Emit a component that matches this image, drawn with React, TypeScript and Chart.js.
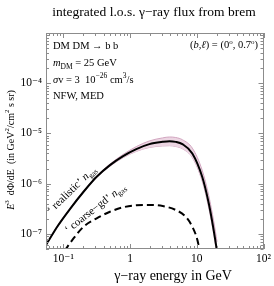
import React, { useEffect, useRef } from "react";
import { Chart, registerables } from "chart.js";

Chart.register(...registerables);

// ---- data ----
const energies = [0.055, 0.081, 0.128, 0.201, 0.316, 0.5, 0.787, 1.24, 1.95, 3.08, 3.9, 4.84, 6.09, 8.57, 12.05, 15.1, 17.9, 20.1];
const realistic = [6.0e-8, 1.39e-7, 3.23e-7, 6.9e-7, 1.37e-6, 2.34e-6, 3.54e-6, 4.88e-6, 6.12e-6, 6.8e-6, 7.0e-6, 6.8e-6, 6.12e-6, 4.0e-6, 1.37e-6, 4.06e-7, 1.19e-7, 4.5e-8];
const bandUpper = [6.2e-8, 1.43e-7, 3.33e-7, 7.1e-7, 1.41e-6, 2.46e-6, 3.82e-6, 5.47e-6, 7.1e-6, 8.16e-6, 8.5e-6, 8.3e-6, 7.5e-6, 5.1e-6, 1.85e-6, 5.8e-7, 1.8e-7, 7.0e-8];
const bandLower = [5.8e-8, 1.35e-7, 3.13e-7, 6.7e-7, 1.33e-6, 2.22e-6, 3.29e-6, 4.39e-6, 5.26e-6, 5.64e-6, 5.7e-6, 5.5e-6, 4.95e-6, 3.3e-6, 1.12e-6, 3.3e-7, 1.0e-7, 3.7e-8];

const coarseEnergies = [0.104, 0.143, 0.201, 0.316, 0.5, 0.787, 1.24, 1.95, 3.08, 4.84, 6.82, 8.57, 10.2, 11.0];
const coarse = [4.6e-8, 8.2e-8, 1.39e-7, 2.04e-7, 2.76e-7, 3.38e-7, 3.71e-7, 3.76e-7, 3.59e-7, 2.99e-7, 2.2e-7, 1.39e-7, 7.6e-8, 4.7e-8];

const X_TICKS = [0.1, 1, 10, 100];
const X_LABELS = ["10⁻¹", "1", "10", "10²"];
const Y_TICKS = [1e-7, 1e-6, 1e-5, 1e-4];
const Y_LABELS = ["10⁻⁷", "10⁻⁶", "10⁻⁵", "10⁻⁴"];

const X_MIN = 0.055;
const X_MAX = 100;
const Y_MIN = 5e-8;
const Y_MAX = 1e-3;

const TITLE = "integrated l.o.s. γ−ray flux from brem";
const X_TITLE = "γ−ray energy in GeV";

const SERIF = '"Liberation Serif", "DejaVu Serif", serif';

type Run = { t: string; size?: number; italic?: boolean; dy?: number };

function drawRuns(ctx: CanvasRenderingContext2D, runs: Run[], x: number, y: number, align: "left" | "right" | "center", base: number) {
  const widths: number[] = [];
  let total = 0;
  for (const r of runs) {
    ctx.font = `${r.italic ? "italic " : ""}${r.size ?? base}px ${SERIF}`;
    const w = ctx.measureText(r.t).width;
    widths.push(w);
    total += w;
  }
  let cx = align === "left" ? x : align === "right" ? x - total : x - total / 2;
  ctx.textAlign = "left";
  ctx.textBaseline = "alphabetic";
  runs.forEach((r, i) => {
    ctx.font = `${r.italic ? "italic " : ""}${r.size ?? base}px ${SERIF}`;
    ctx.fillText(r.t, cx, y + (r.dy ?? 0));
    cx += widths[i];
  });
}

const decorPlugin = {
  id: "decor",
  afterDatasetsDraw(chart: any) {
    const ctx: CanvasRenderingContext2D = chart.ctx;
    const { left, right, top, bottom } = chart.chartArea;
    const xs = chart.scales.x;
    const ys = chart.scales.y;
    ctx.save();
    ctx.strokeStyle = "#8c8c8c";
    ctx.lineWidth = 1;
    // frame
    ctx.strokeRect(Math.round(left) + 0.5, Math.round(top) + 0.5, Math.round(right - left) - 1, Math.round(bottom - top) - 1);
    // ticks (inward on all four sides)
    ctx.beginPath();
    for (let n = -2; n <= 2; n++) {
      for (let k = 1; k <= 9; k++) {
        const v = k * Math.pow(10, n);
        if (v < X_MIN || v > X_MAX) continue;
        const px = Math.round(xs.getPixelForValue(v)) + 0.5;
        const len = k === 1 ? 5 : 3;
        ctx.moveTo(px, bottom);
        ctx.lineTo(px, bottom - len);
        ctx.moveTo(px, top);
        ctx.lineTo(px, top + len);
      }
    }
    for (let n = -8; n <= -3; n++) {
      for (let k = 1; k <= 9; k++) {
        const v = k * Math.pow(10, n);
        if (v < Y_MIN || v > Y_MAX) continue;
        const py = Math.round(ys.getPixelForValue(v)) + 0.5;
        const len = k === 1 ? 5 : 3;
        ctx.moveTo(left, py);
        ctx.lineTo(left + len, py);
        ctx.moveTo(right, py);
        ctx.lineTo(right - len, py);
      }
    }
    ctx.stroke();

    ctx.fillStyle = "#000";
    // title
    drawRuns(ctx, [{ t: TITLE }], 154, 16, "center", 13.5);
    // x title
    drawRuns(ctx, [{ t: X_TITLE }], 173, 280, "center", 14);
    // y title
    ctx.save();
    ctx.translate(13.5, 150);
    ctx.rotate(-Math.PI / 2);
    drawRuns(
      ctx,
      [
        { t: "E", italic: true },
        { t: "3", size: 7, dy: -4.5 },
        { t: "  dΦ/dE  (in GeV" },
        { t: "2", size: 7, dy: -4.5 },
        { t: "/cm" },
        { t: "2", size: 7, dy: -4.5 },
        { t: " s sr)" },
      ],
      0,
      0,
      "center",
      10
    );
    ctx.restore();

    // annotations
    const fs = 10.5;
    drawRuns(ctx, [{ t: "DM DM → b b" }], 53, 48.5, "left", fs);
    drawRuns(ctx, [{ t: "m", italic: true }, { t: "DM", size: 7.5, dy: 2.5 }, { t: " = 25 GeV" }], 53, 66, "left", fs);
    drawRuns(
      ctx,
      [
        { t: "σ", italic: true },
        { t: "v = 3  10" },
        { t: "−26", size: 7.5, dy: -4.5 },
        { t: " cm" },
        { t: "3", size: 7.5, dy: -4.5 },
        { t: "/s" },
      ],
      53,
      82.5,
      "left",
      fs
    );
    drawRuns(ctx, [{ t: "NFW, MED" }], 53, 98.5, "left", fs);
    drawRuns(
      ctx,
      [
        { t: "(" },
        { t: "b", italic: true },
        { t: "," },
        { t: "ℓ", italic: true },
        { t: ") = (0" },
        { t: "o", size: 7, dy: -4.5 },
        { t: ", 0.7" },
        { t: "o", size: 7, dy: -4.5 },
        { t: ")" },
      ],
      258,
      48,
      "right",
      fs
    );

    // curve labels
    const ls = 11;
    ctx.save();
    ctx.translate(71.5, 189.5);
    ctx.rotate((-44 * Math.PI) / 180);
    drawRuns(ctx, [{ t: "‘ realistic’ " }, { t: "n", italic: true }, { t: "gas", size: 7.5, dy: 2.5 }], 0, 3.5, "center", ls);
    ctx.restore();

    ctx.save();
    ctx.translate(95, 208);
    ctx.rotate((-38 * Math.PI) / 180);
    drawRuns(ctx, [{ t: "‘ coarse−gd’ " }, { t: "n", italic: true }, { t: "gas", size: 7.5, dy: 2.5 }], 0, 3.5, "center", ls);
    ctx.restore();

    ctx.restore();
  },
};

export default function App() {
  const ref = useRef<HTMLCanvasElement | null>(null);

  useEffect(() => {
    if (!ref.current) return;
    const pts = (xs: number[], ys: number[]) => xs.map((x, i) => ({ x, y: ys[i] }));
    const chart = new Chart(ref.current, {
      type: "line",
      data: {
        datasets: [
          {
            data: pts(energies, realistic),
            borderColor: "#000",
            borderWidth: 2,
            pointRadius: 0,
            fill: false,
            cubicInterpolationMode: "monotone",
            order: 0,
          },
          {
            data: pts(coarseEnergies, coarse),
            borderColor: "#000",
            borderWidth: 2,
            borderDash: [7, 4],
            pointRadius: 0,
            fill: false,
            cubicInterpolationMode: "monotone",
            order: 1,
          },
          {
            data: pts(energies, bandUpper),
            borderColor: "#d2a6c0",
            backgroundColor: "#ecd5e2",
            borderWidth: 1,
            pointRadius: 0,
            fill: "+1",
            cubicInterpolationMode: "monotone",
            order: 2,
          },
          {
            data: pts(energies, bandLower),
            borderColor: "#d2a6c0",
            borderWidth: 1,
            pointRadius: 0,
            fill: false,
            cubicInterpolationMode: "monotone",
            order: 3,
          },
        ],
      } as any,
      options: {
        animation: false,
        responsive: false,
        layout: { padding: { left: 0, right: 8, top: 33, bottom: 0 } },
        plugins: { legend: { display: false }, tooltip: { enabled: false }, title: { display: false } },
        scales: {
          x: {
            type: "logarithmic",
            min: X_MIN,
            max: X_MAX,
            grid: { display: false, drawTicks: false },
            border: { display: false },
            afterBuildTicks: (s: any) => {
              s.ticks = X_TICKS.map((v) => ({ value: v }));
            },
            afterFit: (s: any) => {
              s.height = 37;
            },
            ticks: {
              autoSkip: false,
              maxRotation: 0,
              padding: 3,
              color: "#000",
              font: { family: SERIF, size: 11.5 },
              callback: (v: any) => X_LABELS[X_TICKS.indexOf(Number(v))] ?? "",
            },
          },
          y: {
            type: "logarithmic",
            min: Y_MIN,
            max: Y_MAX,
            grid: { display: false, drawTicks: false },
            border: { display: false },
            afterBuildTicks: (s: any) => {
              s.ticks = Y_TICKS.map((v) => ({ value: v }));
            },
            afterFit: (s: any) => {
              s.width = 46;
            },
            ticks: {
              autoSkip: false,
              padding: 4,
              color: "#000",
              font: { family: SERIF, size: 11.5 },
              callback: (v: any) => Y_LABELS[Y_TICKS.indexOf(Number(v))] ?? "",
            },
          },
        },
      } as any,
      plugins: [decorPlugin],
    });
    return () => chart.destroy();
  }, []);

  return (
    <div style={{ position: "absolute", left: 0, top: 0, width: 274, height: 286, background: "#fff" }}>
      <canvas ref={ref} width={274} height={286} style={{ display: "block" }} />
    </div>
  );
}
